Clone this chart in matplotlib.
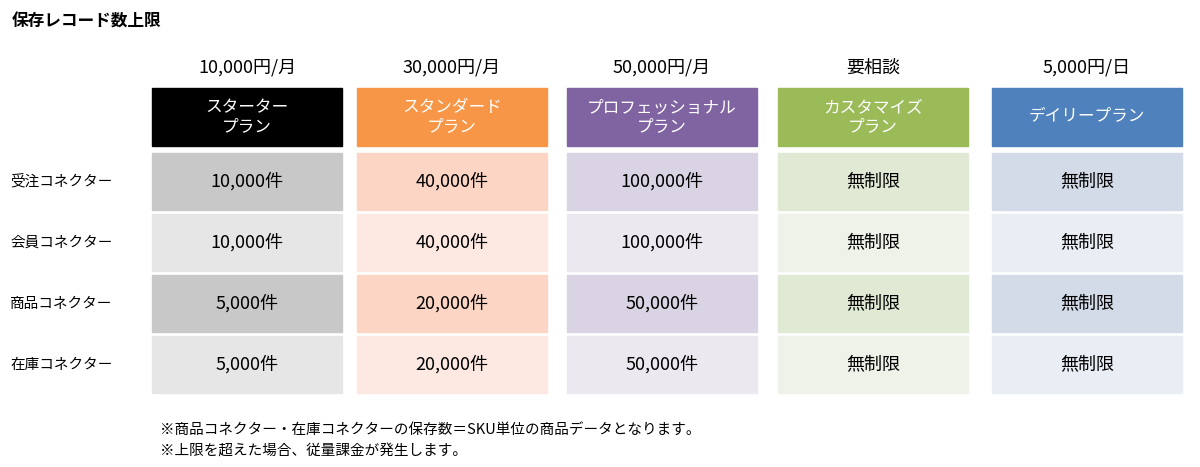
import matplotlib.pyplot as plt
from matplotlib.patches import Rectangle

plt.rcParams['font.family'] = 'Noto Sans CJK JP'

title = '保存レコード数上限'
prices = ['10,000円/月', '30,000円/月', '50,000円/月', '要相談', '5,000円/日']
plans = ['スターター\nプラン', 'スタンダード\nプラン', 'プロフェッショナル\nプラン',
         'カスタマイズ\nプラン', 'デイリープラン']
row_labels = ['受注コネクター', '会員コネクター', '商品コネクター', '在庫コネクター']
values = [
    ['10,000件', '40,000件', '100,000件', '無制限', '無制限'],
    ['10,000件', '40,000件', '100,000件', '無制限', '無制限'],
    ['5,000件', '20,000件', '50,000件', '無制限', '無制限'],
    ['5,000件', '20,000件', '50,000件', '無制限', '無制限'],
]
notes = ['※商品コネクター・在庫コネクターの保存数＝SKU単位の商品データとなります。',
         '※上限を超えた場合、従量課金が発生します。']

head_colors = ['#000000', '#f79646', '#8064a2', '#9bbb59', '#4f81bd']
dark_cells = ['#c8c8c8', '#fcd5c4', '#d9d3e3', '#e0e9d4', '#d3dbe8']
light_cells = ['#e6e6e6', '#fde9e2', '#ece8f0', '#eef2e8', '#e9edf4']

col_x = [152, 357, 567, 778, 992]
col_w = 190
row_y = [153, 214, 275, 336]
row_h = 57

fig = plt.figure(figsize=(12, 4.67), dpi=100)
ax = fig.add_axes([0, 0, 1, 1])
ax.set_xlim(0, 1200)
ax.set_ylim(467, 0)
ax.axis('off')

ax.text(12, 22, title, fontsize=12, fontweight='bold', va='center')

for j, x in enumerate(col_x):
    cx = x + col_w / 2
    ax.text(cx, 68, prices[j], fontsize=13, ha='center', va='center')
    ax.add_patch(Rectangle((x, 88), col_w, 58, color=head_colors[j]))
    ax.text(cx, 117, plans[j], fontsize=12, ha='center', va='center',
            color='white', linespacing=1.1)
    for i, y in enumerate(row_y):
        c = dark_cells[j] if i % 2 == 0 else light_cells[j]
        ax.add_patch(Rectangle((x, y), col_w, row_h, color=c))
        ax.text(cx, y + row_h / 2, values[i][j], fontsize=13,
                ha='center', va='center')

for i, y in enumerate(row_y):
    ax.text(10, y + row_h / 2, row_labels[i], fontsize=10.5, va='center')

ax.text(160, 430, notes[0], fontsize=10.5, va='center')
ax.text(160, 451, notes[1], fontsize=10.5, va='center')

fig.savefig('out.png')
